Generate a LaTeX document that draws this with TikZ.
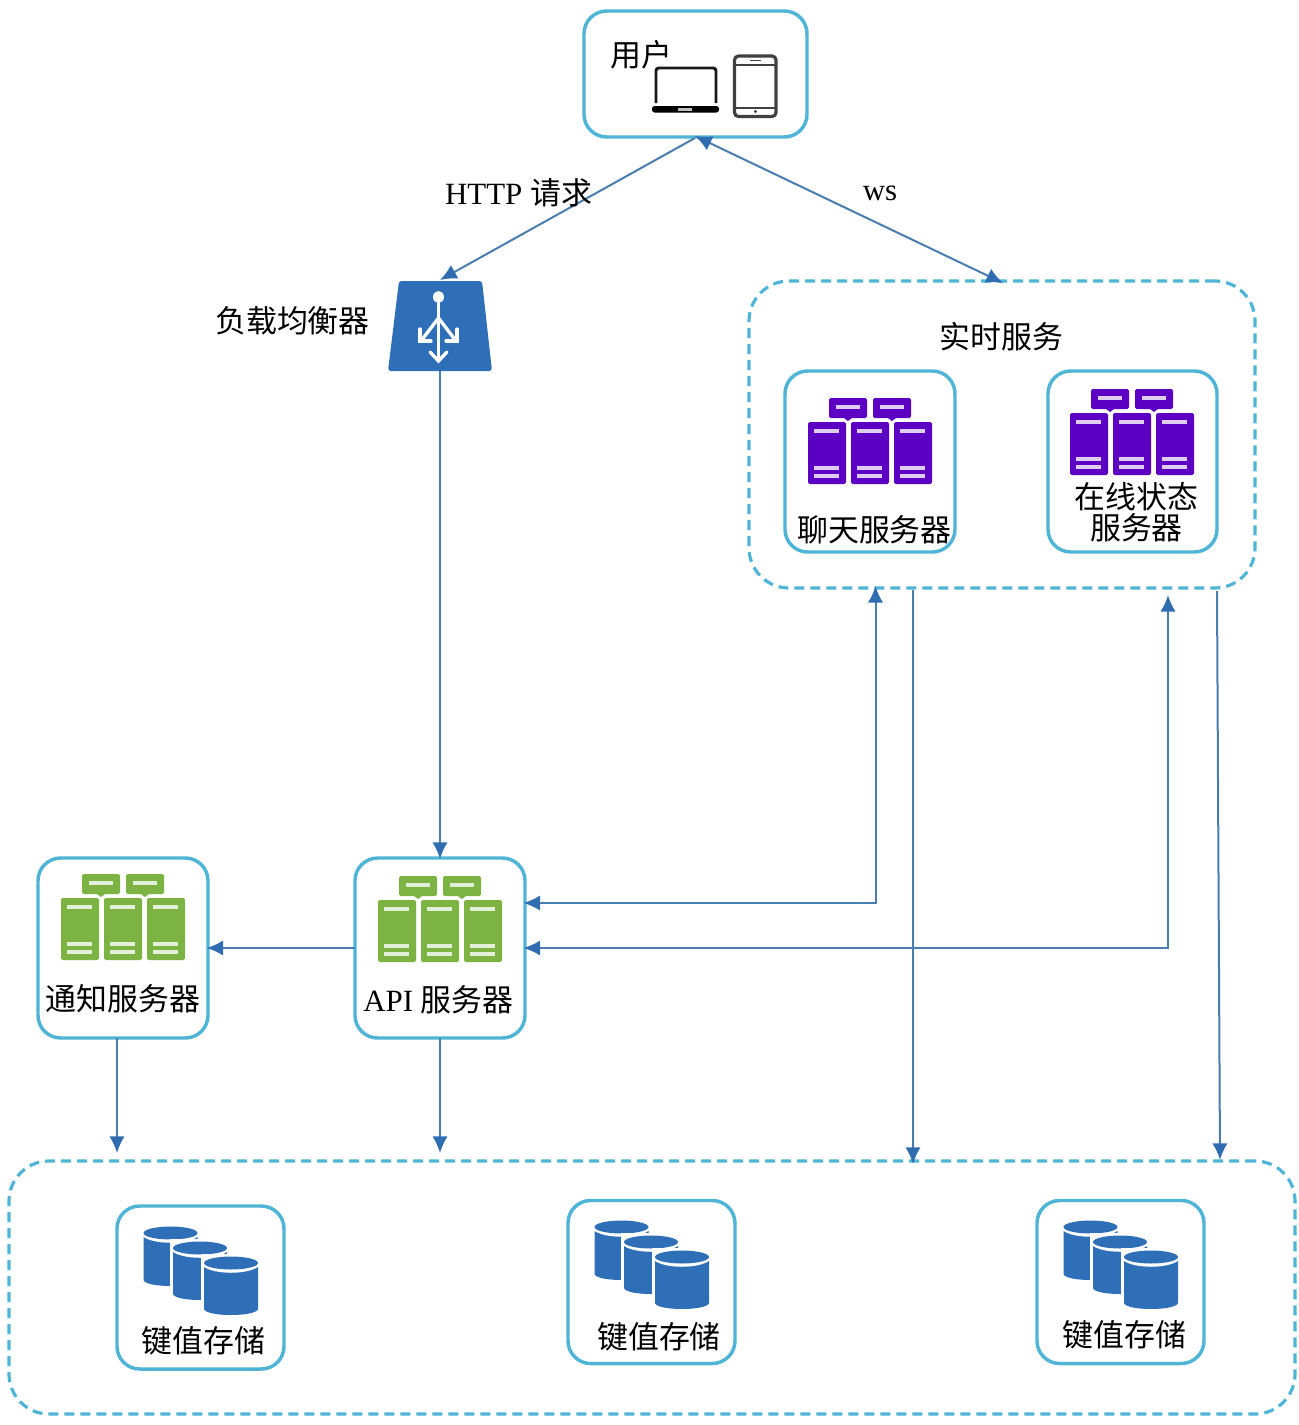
\documentclass[tikz,border=0pt]{standalone}
\usepackage{fontspec}
\setmainfont{Liberation Serif}
\newfontfamily\cjk{Noto Sans CJK SC}
\usetikzlibrary{arrows.meta}
\definecolor{boxline}{HTML}{4FB4D6}
\definecolor{connector}{HTML}{4A7DAF}
\definecolor{tipblue}{HTML}{2F6DB0}
\definecolor{iconblue}{HTML}{2E6FB7}
\definecolor{serverpurple}{HTML}{5C00C4}
\definecolor{servergreen}{HTML}{7CB342}
\definecolor{devicegrey}{HTML}{404040}
\tikzset{
  x=0.75pt,y=-0.75pt,
  cardbox/.style={draw=boxline,line width=2.6pt,rounded corners=17pt,inner sep=0pt,outer sep=0pt,fill=white},
  groupbox/.style={draw=boxline,line width=2.4pt,rounded corners=30pt,inner sep=0pt,outer sep=0pt,dash pattern=on 7.5pt off 4.5pt},
  link/.style={draw=connector,line width=1.5pt,-{Latex[length=12.5pt,width=11.5pt,color=tipblue]}},
  twolink/.style={draw=connector,line width=1.5pt,{Latex[length=12.5pt,width=11.5pt,color=tipblue]}-{Latex[length=12.5pt,width=11.5pt,color=tipblue]}},
  lbl/.style={inner sep=0pt,align=center,font=\fontsize{23.2}{23.2}\selectfont},
  serverpic/.pic={
    \foreach \sx in {21,65}{
      \fill[#1,rounded corners=1.2pt] (\sx,-1) rectangle ++(38,20);
      \fill[#1] (\sx+15,19) -- (\sx+23,19) -- (\sx+19,22) -- cycle;
      \draw[white,opacity=.8,line width=2.5pt] (\sx+7,8) -- ++(24,0);
    }
    \foreach \sx in {0,43,86}{
      \fill[#1,rounded corners=1.2pt] (\sx,23) rectangle ++(38,62);
      \draw[white,opacity=.8,line width=2.5pt]
        (\sx+6,32) -- ++(25,0) (\sx+6,69) -- ++(25,0) (\sx+6,77) -- ++(25,0);
    }
  },
  dbpic/.pic={
    \foreach \cx/\cy/\cb in {27/6/59,56.5/21/73,87.5/36/88}{
      \fill[white] (\cx-30,\cy-9) rectangle (\cx+30,\cb+3);
      \fill[iconblue]
        (\cx-27,\cy) -- (\cx-27,\cb-6) .. controls (\cx-25,\cb+2) and (\cx+25,\cb+2) .. (\cx+27,\cb-6) -- (\cx+27,\cy) -- cycle;
      \fill[white] (\cx-28,\cy) -- (\cx+28,\cy) -- (\cx+28,\cy+3) .. controls (\cx+18,\cy+12) and (\cx-18,\cy+12) .. (\cx-28,\cy+3) -- cycle;
      \fill[iconblue] (\cx,\cy) ellipse [x radius=27,y radius=6.5];
    }
  }
}
\begin{document}
\begin{tikzpicture}
\useasboundingbox (0,0) rectangle (1299,1425);

% group containers
\node[groupbox,minimum width=379.5pt,minimum height=230.25pt] (rt) at (1002,434.5) {};
\node[groupbox,minimum width=964.5pt,minimum height=189.75pt] (kv) at (652,1287.5) {};

% cards
\node[cardbox,minimum width=167.25pt,minimum height=94.5pt] (user) at (695.5,74) {};
\node[cardbox,minimum width=127.5pt,minimum height=135.75pt] (chat) at (870,461.5) {};
\node[cardbox,minimum width=126.75pt,minimum height=135.75pt] (pres) at (1132.5,461.5) {};
\node[cardbox,minimum width=127.5pt,minimum height=135pt] (api) at (440,948) {};
\node[cardbox,minimum width=127.5pt,minimum height=135pt] (notif) at (123,948) {};
\node[cardbox,minimum width=125.25pt,minimum height=122.25pt] (kva) at (200.5,1287.5) {};
\node[cardbox,minimum width=125.25pt,minimum height=122.25pt] (kvb) at (651.5,1282) {};
\node[cardbox,minimum width=125.25pt,minimum height=122.25pt] (kvc) at (1120.5,1282) {};

% load balancer
\fill[iconblue,rounded corners=2pt] (399,281) -- (482,281) -- (492,371) -- (388,371) -- cycle;
\coordinate (lbtop) at (440,280);
\coordinate (lbbot) at (440,371);
\begin{scope}[white,line width=2.5pt]
  \fill (438.5,297) ellipse [x radius=5.5,y radius=6];
  \draw (438.5,300) -- (438.5,360);
  \draw (438.5,318) -- (421,341) (438.5,318) -- (456,341);
  \draw[line cap=round] (430,352) -- (438.5,361) -- (447,352);
  \draw[line cap=round] (420,329) -- (420,341) -- (431,341);
  \draw[line cap=round] (457,329) -- (457,341) -- (446,341);
\end{scope}

% devices
\draw[devicegrey!40!black,line width=2.2pt,line join=round,rounded corners=2pt] (656,103) -- (656,68) -- (716,68) -- (716,103);
\fill[black,rounded corners=2pt] (652,106) rectangle (719,112.5);
\fill[white!75!black] (678,107.5) rectangle (692,110.5);
\draw[devicegrey,line width=2.4pt,rounded corners=3pt] (734.5,56) rectangle (776,116.5);
\draw[devicegrey,line width=1.5pt] (734.5,65) -- (776,65) (734.5,107.5) -- (776,107.5);
\draw[devicegrey,line width=1.2pt] (750,60.5) -- (761,60.5);
\fill[devicegrey] (755.5,111.5) circle (1.6);

% icons
\pic at (808,399) {serverpic=serverpurple};
\pic at (1070,390) {serverpic=serverpurple};
\pic at (61,875) {serverpic=servergreen};
\pic at (378,877) {serverpic=servergreen};
\pic at (143.5,1227) {dbpic};
\pic at (594.5,1221) {dbpic};
\pic at (1063.5,1221) {dbpic};

% free connector ends
\coordinate (chatup) at (875.5,586);
\coordinate (presup) at (1168,595);
\coordinate (apichat) at (523.5,903);
\coordinate (apipres) at (523.5,948);
\coordinate (notiftip) at (206.5,948);
\coordinate (rtdownA) at (913,590);
\coordinate (rtdownB) at (1217,591);
\coordinate (kvtopA) at (913,1164);
\coordinate (kvtopB) at (1220,1160);
\coordinate (notifdown) at (117,1038);
\coordinate (kvnotif) at (117,1153);
\coordinate (kvapi) at (440,1153);
\coordinate (apitop) at (440,859);
\coordinate (rttop) at (1003,283);
\coordinate (usertipA) at (695,138);
\coordinate (usertipB) at (695,136);

% connectors
\draw[link] (usertipA) -- (lbtop);
\draw[twolink] (usertipB) -- (rttop);
\draw[link] (lbbot) -- (apitop);
\draw[twolink] (apichat) -- (875.5,903) -- (chatup);
\draw[twolink] (apipres) -- (1168,948) -- (presup);
\draw[link] (api.west) -- (notiftip);
\draw[link] (rtdownA) -- (kvtopA);
\draw[link] (rtdownB) -- (kvtopB);
\draw[link] (notifdown) -- (kvnotif);
\draw[link] (api.south) -- (kvapi);

% labels
\node[lbl] (tuser) at (641,55) {\cjk 用户};
\node[lbl] (thttp) at (518.5,192.5) {HTTP {\cjk 请求}};
\node[lbl] (tws) at (880,193) {ws};
\node[lbl] (tlb) at (292.5,321) {\cjk 负载均衡器};
\node[lbl] (trt) at (1001.5,337) {\cjk 实时服务};
\node[lbl] (tchat) at (874.5,530) {\cjk 聊天服务器};
\node[lbl] (tpresa) at (1136.5,497) {\cjk 在线状态};
\node[lbl] (tpresb) at (1136.5,528) {\cjk 服务器};
\node[lbl] (tnotif) at (123,999) {\cjk 通知服务器};
\node[lbl] (tapi) at (438.5,999.5) {API {\cjk 服务器}};
\node[lbl] (tkva) at (203.5,1340.5) {\cjk 键值存储};
\node[lbl] (tkvb) at (659,1337) {\cjk 键值存储};
\node[lbl] (tkvc) at (1124.5,1335) {\cjk 键值存储};
\end{tikzpicture}
\end{document}
